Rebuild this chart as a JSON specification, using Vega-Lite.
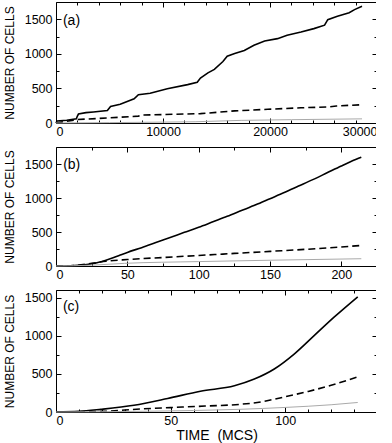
{
  "$schema": "https://vega.github.io/schema/vega-lite/v6.json",
  "padding": {"left": 2, "top": 1, "right": -2, "bottom": 0},
  "config": {
    "font": "Liberation Sans",
    "view": {"stroke": "black", "strokeWidth": 1},
    "axis": {"grid": false, "domain": false, "labelFont": "Liberation Sans", "labelFontSize": 12.5, "labelColor": "black", "tickColor": "black", "tickWidth": 1, "titleFont": "Liberation Sans", "titleFontWeight": "normal", "titleColor": "black"},
    "text": {"font": "Liberation Sans"}
  },
  "datasets": {
    "a": [
      {"t": 0, "v": 0, "s": "solid"}, {"t": 100, "v": 30, "s": "solid"}, {"t": 1000, "v": 40, "s": "solid"}, {"t": 1900, "v": 60, "s": "solid"}, {"t": 2000, "v": 100, "s": "solid"}, {"t": 2100, "v": 130, "s": "solid"}, {"t": 2800, "v": 150, "s": "solid"}, {"t": 3500, "v": 160, "s": "solid"}, {"t": 4800, "v": 180, "s": "solid"}, {"t": 5100, "v": 240, "s": "solid"}, {"t": 6000, "v": 270, "s": "solid"}, {"t": 7300, "v": 350, "s": "solid"}, {"t": 7700, "v": 410, "s": "solid"}, {"t": 8800, "v": 430, "s": "solid"}, {"t": 10400, "v": 495, "s": "solid"}, {"t": 12300, "v": 555, "s": "solid"}, {"t": 13200, "v": 590, "s": "solid"}, {"t": 13500, "v": 650, "s": "solid"}, {"t": 14200, "v": 725, "s": "solid"}, {"t": 14800, "v": 775, "s": "solid"}, {"t": 15600, "v": 890, "s": "solid"}, {"t": 16000, "v": 965, "s": "solid"}, {"t": 16700, "v": 1005, "s": "solid"}, {"t": 17600, "v": 1050, "s": "solid"}, {"t": 18500, "v": 1125, "s": "solid"}, {"t": 19500, "v": 1185, "s": "solid"}, {"t": 20700, "v": 1220, "s": "solid"}, {"t": 21600, "v": 1270, "s": "solid"}, {"t": 22900, "v": 1315, "s": "solid"}, {"t": 24100, "v": 1365, "s": "solid"}, {"t": 25100, "v": 1415, "s": "solid"}, {"t": 25400, "v": 1495, "s": "solid"}, {"t": 26300, "v": 1545, "s": "solid"}, {"t": 27400, "v": 1595, "s": "solid"}, {"t": 27900, "v": 1640, "s": "solid"}, {"t": 28600, "v": 1690, "s": "solid"},
      {"t": 0, "v": 0, "s": "dashed"}, {"t": 2000, "v": 50, "s": "dashed"}, {"t": 5100, "v": 75, "s": "dashed"}, {"t": 7700, "v": 100, "s": "dashed"}, {"t": 8000, "v": 115, "s": "dashed"}, {"t": 13500, "v": 135, "s": "dashed"}, {"t": 16700, "v": 175, "s": "dashed"}, {"t": 19800, "v": 198, "s": "dashed"}, {"t": 22900, "v": 220, "s": "dashed"}, {"t": 25400, "v": 232, "s": "dashed"}, {"t": 26200, "v": 245, "s": "dashed"}, {"t": 28600, "v": 265, "s": "dashed"},
      {"t": 0, "v": 0, "s": "gray"}, {"t": 5000, "v": 5, "s": "gray"}, {"t": 13000, "v": 18, "s": "gray"}, {"t": 17300, "v": 38, "s": "gray"}, {"t": 22000, "v": 48, "s": "gray"}, {"t": 28600, "v": 60, "s": "gray"}
    ],
    "b": [
      {"t": 0, "v": 0, "s": "solid"}, {"t": 10, "v": 4, "s": "solid"}, {"t": 20, "v": 18, "s": "solid"}, {"t": 25, "v": 32, "s": "solid"}, {"t": 30, "v": 55, "s": "solid"}, {"t": 35, "v": 85, "s": "solid"}, {"t": 40, "v": 120, "s": "solid"}, {"t": 45, "v": 160, "s": "solid"}, {"t": 50, "v": 200, "s": "solid"}, {"t": 60, "v": 270, "s": "solid"}, {"t": 70, "v": 345, "s": "solid"}, {"t": 80, "v": 420, "s": "solid"}, {"t": 90, "v": 495, "s": "solid"}, {"t": 100, "v": 570, "s": "solid"}, {"t": 110, "v": 650, "s": "solid"}, {"t": 120, "v": 730, "s": "solid"}, {"t": 130, "v": 815, "s": "solid"}, {"t": 140, "v": 900, "s": "solid"}, {"t": 150, "v": 990, "s": "solid"}, {"t": 160, "v": 1080, "s": "solid"}, {"t": 170, "v": 1175, "s": "solid"}, {"t": 180, "v": 1270, "s": "solid"}, {"t": 190, "v": 1370, "s": "solid"}, {"t": 200, "v": 1470, "s": "solid"}, {"t": 210, "v": 1565, "s": "solid"}, {"t": 214, "v": 1600, "s": "solid"},
      {"t": 0, "v": 0, "s": "dashed"}, {"t": 15, "v": 10, "s": "dashed"}, {"t": 25, "v": 40, "s": "dashed"}, {"t": 35, "v": 70, "s": "dashed"}, {"t": 50, "v": 95, "s": "dashed"}, {"t": 75, "v": 125, "s": "dashed"}, {"t": 100, "v": 155, "s": "dashed"}, {"t": 125, "v": 185, "s": "dashed"}, {"t": 150, "v": 215, "s": "dashed"}, {"t": 175, "v": 245, "s": "dashed"}, {"t": 200, "v": 280, "s": "dashed"}, {"t": 214, "v": 302, "s": "dashed"},
      {"t": 0, "v": 0, "s": "gray"}, {"t": 25, "v": 12, "s": "gray"}, {"t": 48, "v": 39, "s": "gray"}, {"t": 100, "v": 65, "s": "gray"}, {"t": 150, "v": 85, "s": "gray"}, {"t": 214, "v": 107, "s": "gray"}
    ],
    "c": [
      {"t": 0, "v": 0, "s": "solid"}, {"t": 10, "v": 8, "s": "solid"}, {"t": 19.6, "v": 35, "s": "solid"}, {"t": 34, "v": 88, "s": "solid"}, {"t": 48.7, "v": 177, "s": "solid"}, {"t": 63, "v": 273, "s": "solid"}, {"t": 77.8, "v": 344, "s": "solid"}, {"t": 86.5, "v": 432, "s": "solid"}, {"t": 95.2, "v": 564, "s": "solid"}, {"t": 104, "v": 763, "s": "solid"}, {"t": 112.7, "v": 1005, "s": "solid"}, {"t": 121.4, "v": 1247, "s": "solid"}, {"t": 131.6, "v": 1511, "s": "solid"},
      {"t": 0, "v": 0, "s": "dashed"}, {"t": 20, "v": 8, "s": "dashed"}, {"t": 37, "v": 40, "s": "dashed"}, {"t": 50, "v": 58, "s": "dashed"}, {"t": 65, "v": 78, "s": "dashed"}, {"t": 80, "v": 100, "s": "dashed"}, {"t": 90, "v": 135, "s": "dashed"}, {"t": 95, "v": 167, "s": "dashed"}, {"t": 100, "v": 200, "s": "dashed"}, {"t": 110, "v": 270, "s": "dashed"}, {"t": 120, "v": 350, "s": "dashed"}, {"t": 131.6, "v": 460, "s": "dashed"},
      {"t": 0, "v": 0, "s": "gray"}, {"t": 40, "v": 10, "s": "gray"}, {"t": 80, "v": 35, "s": "gray"}, {"t": 100, "v": 60, "s": "gray"}, {"t": 120, "v": 95, "s": "gray"}, {"t": 131.6, "v": 125, "s": "gray"}
    ]
  },
  "vconcat": [
    {
      "width": 321, "height": 121,
      "data": {"name": "a"},
      "layer": [
        {"transform": [{"filter": "datum.s === 'solid'"}], "mark": {"type": "line", "color": "black", "strokeWidth": 1.6},
         "encoding": {
           "x": {"field": "t", "type": "quantitative", "scale": {"domain": [0, 30000], "nice": false}, "axis": {"orient": "bottom", "values": [0, 10000, 20000, 30000], "format": "d", "title": null, "tickSize": -5, "labelPadding": 7}},
           "y": {"field": "v", "type": "quantitative", "scale": {"domain": [0, 1750], "nice": false}, "axis": {"orient": "left", "values": [0, 500, 1000, 1500], "format": "d", "title": "NUMBER OF CELLS", "titleFontSize": 12, "tickSize": -5, "labelPadding": 9, "titlePadding": 8}}}},
        {"transform": [{"filter": "datum.s === 'dashed'"}], "mark": {"type": "line", "color": "black", "strokeWidth": 1.6, "strokeDash": [7, 4]},
         "encoding": {
           "x": {"field": "t", "type": "quantitative", "scale": {"domain": [0, 30000], "nice": false}, "axis": {"orient": "top", "values": [0, 10000, 20000, 30000], "labels": false, "title": null, "tickSize": -5}},
           "y": {"field": "v", "type": "quantitative", "scale": {"domain": [0, 1750], "nice": false}, "axis": {"orient": "right", "values": [0, 500, 1000, 1500], "labels": false, "title": null, "tickSize": -5}}}},
        {"transform": [{"filter": "datum.s === 'gray'"}], "mark": {"type": "line", "color": "#aaaaaa", "strokeWidth": 1},
         "encoding": {
           "x": {"field": "t", "type": "quantitative", "scale": {"domain": [0, 30000], "nice": false}, "axis": {"orient": "bottom", "values": [2000, 4000, 6000, 8000, 12000, 14000, 16000, 18000, 22000, 24000, 26000, 28000], "labels": false, "title": null, "tickSize": -3}},
           "y": {"field": "v", "type": "quantitative", "scale": {"domain": [0, 1750], "nice": false}, "axis": {"orient": "left", "values": [250, 750, 1250], "labels": false, "title": null, "tickSize": -3}}}},
        {"data": {"values": [{"label": "(a)"}]},
         "mark": {"type": "text", "align": "left", "baseline": "middle", "fontSize": 14, "color": "black"},
         "encoding": {
           "text": {"field": "label"},
           "x": {"datum": 650, "type": "quantitative", "scale": {"domain": [0, 30000], "nice": false}, "axis": {"orient": "top", "values": [2000, 4000, 6000, 8000, 12000, 14000, 16000, 18000, 22000, 24000, 26000, 28000], "labels": false, "title": null, "tickSize": -3}},
           "y": {"datum": 1480, "type": "quantitative", "scale": {"domain": [0, 1750], "nice": false}, "axis": {"orient": "right", "values": [250, 750, 1250], "labels": false, "title": null, "tickSize": -3}}}}
      ],
      "resolve": {"axis": {"x": "independent", "y": "independent"}}
    },
    {
      "width": 321, "height": 119,
      "data": {"name": "b"},
      "layer": [
        {"transform": [{"filter": "datum.s === 'solid'"}], "mark": {"type": "line", "color": "black", "strokeWidth": 1.6, "interpolate": "monotone"},
         "encoding": {
           "x": {"field": "t", "type": "quantitative", "scale": {"domain": [0, 225], "nice": false}, "axis": {"orient": "bottom", "values": [0, 50, 100, 150, 200], "title": null, "tickSize": -5, "labelPadding": 7}},
           "y": {"field": "v", "type": "quantitative", "scale": {"domain": [0, 1750], "nice": false}, "axis": {"orient": "left", "values": [0, 500, 1000, 1500], "format": "d", "title": "NUMBER OF CELLS", "titleFontSize": 12, "tickSize": -5, "labelPadding": 9, "titlePadding": 8}}}},
        {"transform": [{"filter": "datum.s === 'dashed'"}], "mark": {"type": "line", "color": "black", "strokeWidth": 1.6, "strokeDash": [7, 4], "interpolate": "monotone"},
         "encoding": {
           "x": {"field": "t", "type": "quantitative", "scale": {"domain": [0, 225], "nice": false}, "axis": {"orient": "top", "values": [0, 50, 100, 150, 200], "labels": false, "title": null, "tickSize": -5}},
           "y": {"field": "v", "type": "quantitative", "scale": {"domain": [0, 1750], "nice": false}, "axis": {"orient": "right", "values": [0, 500, 1000, 1500], "labels": false, "title": null, "tickSize": -5}}}},
        {"transform": [{"filter": "datum.s === 'gray'"}], "mark": {"type": "line", "color": "#aaaaaa", "strokeWidth": 1, "interpolate": "monotone"},
         "encoding": {
           "x": {"field": "t", "type": "quantitative", "scale": {"domain": [0, 225], "nice": false}, "axis": {"orient": "bottom", "values": [25, 75, 125, 175, 225], "labels": false, "title": null, "tickSize": -3}},
           "y": {"field": "v", "type": "quantitative", "scale": {"domain": [0, 1750], "nice": false}, "axis": {"orient": "left", "values": [250, 750, 1250], "labels": false, "title": null, "tickSize": -3}}}},
        {"data": {"values": [{"label": "(b)"}]},
         "mark": {"type": "text", "align": "left", "baseline": "middle", "fontSize": 14, "color": "black"},
         "encoding": {
           "text": {"field": "label"},
           "x": {"datum": 5, "type": "quantitative", "scale": {"domain": [0, 225], "nice": false}, "axis": {"orient": "top", "values": [25, 75, 125, 175], "labels": false, "title": null, "tickSize": -3}},
           "y": {"datum": 1480, "type": "quantitative", "scale": {"domain": [0, 1750], "nice": false}, "axis": {"orient": "right", "values": [250, 750, 1250], "labels": false, "title": null, "tickSize": -3}}}}
      ],
      "resolve": {"axis": {"x": "independent", "y": "independent"}}
    },
    {
      "width": 321, "height": 122,
      "data": {"name": "c"},
      "layer": [
        {"transform": [{"filter": "datum.s === 'solid'"}], "mark": {"type": "line", "color": "black", "strokeWidth": 1.6, "interpolate": "monotone"},
         "encoding": {
           "x": {"field": "t", "type": "quantitative", "scale": {"domain": [0, 140], "nice": false}, "axis": {"orient": "bottom", "values": [0, 50, 100], "title": "TIME \u00a0(MCS)", "titleFontSize": 14, "titlePadding": 2, "tickSize": -5, "labelPadding": 7}},
           "y": {"field": "v", "type": "quantitative", "scale": {"domain": [0, 1600], "nice": false}, "axis": {"orient": "left", "values": [0, 500, 1000, 1500], "format": "d", "title": "NUMBER OF CELLS", "titleFontSize": 12, "tickSize": -5, "labelPadding": 9, "titlePadding": 8}}}},
        {"transform": [{"filter": "datum.s === 'dashed'"}], "mark": {"type": "line", "color": "black", "strokeWidth": 1.6, "strokeDash": [7, 4], "interpolate": "monotone"},
         "encoding": {
           "x": {"field": "t", "type": "quantitative", "scale": {"domain": [0, 140], "nice": false}, "axis": {"orient": "top", "values": [0, 50, 100], "labels": false, "title": null, "tickSize": -5}},
           "y": {"field": "v", "type": "quantitative", "scale": {"domain": [0, 1600], "nice": false}, "axis": {"orient": "right", "values": [0, 500, 1000, 1500], "labels": false, "title": null, "tickSize": -5}}}},
        {"transform": [{"filter": "datum.s === 'gray'"}], "mark": {"type": "line", "color": "#aaaaaa", "strokeWidth": 1, "interpolate": "monotone"},
         "encoding": {
           "x": {"field": "t", "type": "quantitative", "scale": {"domain": [0, 140], "nice": false}, "axis": {"orient": "bottom", "values": [10, 20, 30, 40, 60, 70, 80, 90, 110, 120, 130], "labels": false, "title": null, "tickSize": -3}},
           "y": {"field": "v", "type": "quantitative", "scale": {"domain": [0, 1600], "nice": false}, "axis": {"orient": "left", "values": [250, 750, 1250], "labels": false, "title": null, "tickSize": -3}}}},
        {"data": {"values": [{"label": "(c)"}]},
         "mark": {"type": "text", "align": "left", "baseline": "middle", "fontSize": 14, "color": "black"},
         "encoding": {
           "text": {"field": "label"},
           "x": {"datum": 3, "type": "quantitative", "scale": {"domain": [0, 140], "nice": false}, "axis": {"orient": "top", "values": [10, 20, 30, 40, 60, 70, 80, 90, 110, 120, 130], "labels": false, "title": null, "tickSize": -3}},
           "y": {"datum": 1380, "type": "quantitative", "scale": {"domain": [0, 1600], "nice": false}, "axis": {"orient": "right", "values": [250, 750, 1250], "labels": false, "title": null, "tickSize": -3}}}}
      ],
      "resolve": {"axis": {"x": "independent", "y": "independent"}}
    }
  ],
  "spacing": 24,
  "bounds": "flush"
}
